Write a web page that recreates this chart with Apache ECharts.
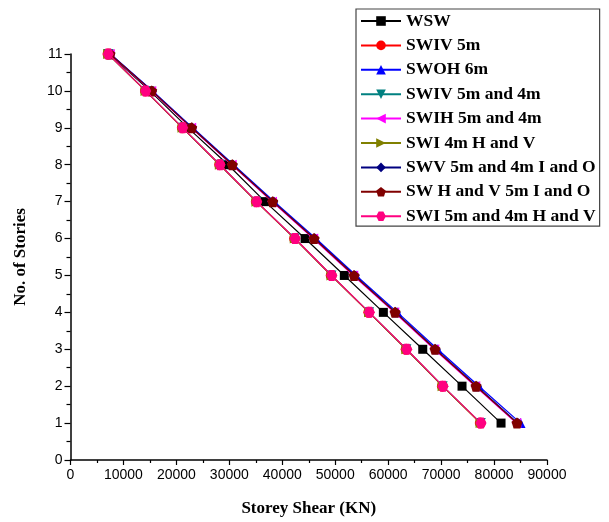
<!DOCTYPE html>
<html>
<head>
<meta charset="utf-8">
<script src="https://cdn.jsdelivr.net/npm/echarts@6/dist/echarts.min.js"></script>
<style>html,body{margin:0;padding:0;background:#fff;}#c{width:609px;height:522px;}</style>
</head>
<body>
<div id="c"></div>
<script>
// Stories (y values)
var stories = [1, 2, 3, 4, 5, 6, 7, 8, 9, 10, 11];
var xTicks = [0, 10000, 20000, 30000, 40000, 50000, 60000, 70000, 80000, 90000];
var yTicks = [0, 1, 2, 3, 4, 5, 6, 7, 8, 9, 10, 11];

var seriesNames = ['WSW', 'SWIV 5m', 'SWOH 6m', 'SWIV 5m and 4m', 'SWIH 5m and 4m',
  'SWI 4m H and V', 'SWV 5m and 4m I and O', 'SW H and V 5m I and O', 'SWI 5m and 4m H and V'];

// Storey shear values (KN), stories 1..11
var wsw      = [81320, 73950, 66530, 59090, 51720, 44300, 36740, 29750, 22200, 15000, 7300];
var swiv5    = [77400, 70250, 63400, 56350, 49250, 42330, 35100, 28180, 21130, 14150, 7100];
var swoh6    = [85000, 77150, 69350, 61750, 53950, 46350, 38500, 30800, 23100, 15500, 7550];
var swiv54   = [77500, 70300, 63450, 56400, 49300, 42370, 35140, 28210, 21160, 14180, 7120];
var swih54   = [84200, 76450, 68700, 61150, 53400, 45850, 38050, 30450, 22800, 15250, 7420];
var swi4hv   = [77450, 70280, 63420, 56380, 49280, 42350, 35120, 28200, 21150, 14170, 7110];
var swv54io  = [84500, 76750, 69000, 61450, 53700, 46100, 38300, 30650, 22950, 15400, 7480];
var swhv5io  = [84330, 76600, 68850, 61300, 53550, 46000, 38190, 30560, 22890, 15340, 7460];
var swi54hv  = [77540, 70360, 63500, 56440, 49340, 42410, 35170, 28240, 21190, 14200, 7140];

var values = [wsw, swiv5, swoh6, swiv54, swih54, swi4hv, swv54io, swhv5io, swi54hv];
var colors = ['#000000', '#ff0000', '#0000ff', '#008080', '#ff00ff', '#808000', '#000080', '#800000', '#ff0080'];
var symbols = [
  'rect', 'circle', 'triangle',
  'path://M0,0 L10,0 L5,9 Z',
  'path://M9,0 L9,10 L0,5 Z',
  'path://M0,0 L0,10 L9,5 Z',
  'diamond',
  'path://M5,0 L10,3.8 L8.1,10 L1.9,10 L0,3.8 Z',
  'path://M2.5,0 L7.5,0 L10,4.5 L7.5,9 L2.5,9 L0,4.5 Z'
];
var sizes = [9, 11, 10, 10, 10, 10, 10, 11, 11];

var series = seriesNames.map(function (n, i) {
  return {
    name: n,
    type: 'line',
    data: values[i].map(function (v, k) { return [v, stories[k]]; }),
    symbol: symbols[i],
    symbolSize: sizes[i],
    showAllSymbol: true,
    color: colors[i],
    lineStyle: { color: colors[i], width: 1.2 },
    itemStyle: { color: colors[i] },
    animation: false,
    z: 2 + i
  };
});

var chart = echarts.init(document.getElementById('c'), null, { renderer: 'canvas' });
chart.setOption({
  backgroundColor: '#ffffff',
  animation: false,
  grid: { left: 70.5, right: 62, top: 54, bottom: 61, containLabel: false },
  xAxis: {
    type: 'value', min: 0, max: 90000, interval: 10000,
    name: 'Storey Shear (KN)', nameLocation: 'middle', nameGap: 40,
    nameTextStyle: { fontFamily: 'Liberation Serif', fontWeight: 'bold', fontSize: 17, color: '#000' },
    axisLine: { show: true, onZero: false, lineStyle: { color: '#000', width: 1.5 } },
    axisTick: { show: true, inside: false, length: 5, lineStyle: { color: '#000', width: 1.2 } },
    minorTick: { show: true, splitNumber: 2, length: 3, lineStyle: { color: '#000', width: 1.2 } },
    axisLabel: { fontFamily: 'Liberation Sans', fontSize: 14, color: '#000', margin: 8,
      formatter: function (v) { return String(v); } },
    splitLine: { show: false }
  },
  yAxis: {
    type: 'value', min: 0, max: 11, interval: 1,
    name: 'No. of Stories', nameLocation: 'middle', nameGap: 41, nameRotate: 90,
    nameTextStyle: { fontFamily: 'Liberation Serif', fontWeight: 'bold', fontSize: 17, color: '#000' },
    axisLine: { show: true, onZero: false, lineStyle: { color: '#000', width: 1.5 } },
    axisTick: { show: true, inside: false, length: 6, lineStyle: { color: '#000', width: 1.2 } },
    minorTick: { show: true, splitNumber: 2, length: 4, lineStyle: { color: '#000', width: 1.2 } },
    axisLabel: { fontFamily: 'Liberation Sans', fontSize: 14, color: '#000', margin: 8 },
    splitLine: { show: false }
  },
  legend: {
    orient: 'vertical', left: 356, top: 9,
    padding: [3, 4, 1, 4],
    itemWidth: 40, itemHeight: 12, itemGap: 6.4,
    borderColor: '#444', borderWidth: 1.2,
    backgroundColor: '#fff',
    textStyle: { fontFamily: 'Liberation Serif', fontWeight: 'bold', fontSize: 17.5, color: '#000' },
    data: seriesNames
  },
  series: series
});
</script>
</body>
</html>
